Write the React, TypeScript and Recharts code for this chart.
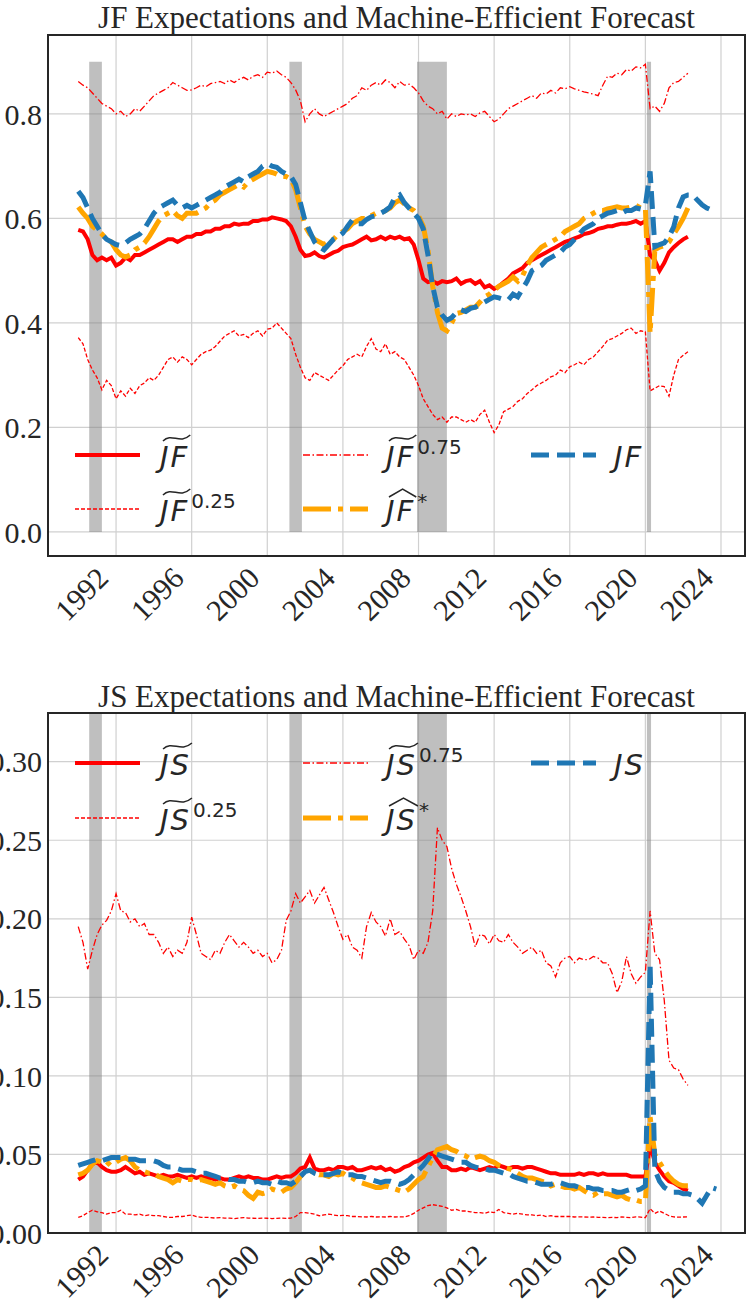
import React from 'react';
import { LineChart, Line, XAxis, YAxis, CartesianGrid, ReferenceArea, Legend } from 'recharts';

const N = null;

// quarterly time index, 1990Q1 .. 2023Q4
const quarters = Array.from({ length: 136 }, (_, i) => 1990 + i / 4);

const xTicks = [1992, 1996, 2000, 2004, 2008, 2012, 2016, 2020, 2024];
const jfTicks = [0, 0.2, 0.4, 0.6, 0.8];
const jsTicks = [0, 0.05, 0.1, 0.15, 0.2, 0.25, 0.3];

const recessions = [
  [1990.58, 1991.25],
  [2001.17, 2001.83],
  [2007.92, 2009.5],
  [2020.08, 2020.3],
];

// ---- job finding (JF) ----
const jfSurvey = [
  0.578, 0.575, 0.56, 0.53, 0.52, 0.525, 0.52, 0.525,
  0.51, 0.515, 0.525, 0.52, 0.53, 0.53, 0.535, 0.54,
  0.545, 0.55, 0.555, 0.56, 0.56, 0.555, 0.56, 0.565,
  0.565, 0.57, 0.57, 0.575, 0.575, 0.58, 0.58, 0.585,
  0.585, 0.59, 0.588, 0.59, 0.59, 0.595, 0.595, 0.598,
  0.598, 0.602, 0.6, 0.598, 0.595, 0.585, 0.565, 0.54,
  0.528, 0.53, 0.535, 0.528, 0.525, 0.53, 0.535, 0.538,
  0.545, 0.548, 0.55, 0.555, 0.56, 0.565, 0.558, 0.56,
  0.565, 0.56, 0.565, 0.562, 0.565, 0.56, 0.562, 0.55,
  0.52, 0.485, 0.478, 0.48, 0.475, 0.48, 0.478, 0.48,
  0.485, 0.475, 0.48, 0.482, 0.475, 0.48, 0.468, 0.472,
  0.465, 0.47, 0.478, 0.485, 0.495, 0.5, 0.505, 0.515,
  0.52, 0.525, 0.53, 0.535, 0.54, 0.545, 0.55, 0.555,
  0.558, 0.562, 0.565, 0.57, 0.572, 0.575, 0.58, 0.582,
  0.585, 0.585, 0.588, 0.59, 0.59, 0.592, 0.595, 0.59,
  0.595, 0.53, 0.52, 0.5, 0.515, 0.535, 0.545, 0.553,
  0.56, 0.565, N, N, N, N, N, N,
];

const jfP25 = [
  0.372, 0.36, 0.33, 0.31, 0.295, 0.272, 0.29, 0.28,
  0.255, 0.27, 0.26, 0.275, 0.265, 0.28, 0.285, 0.295,
  0.29, 0.3, 0.315, 0.33, 0.335, 0.325, 0.335, 0.33,
  0.32, 0.33, 0.34, 0.345, 0.348, 0.355, 0.365, 0.375,
  0.38, 0.385, 0.375, 0.378, 0.372, 0.38, 0.385, 0.375,
  0.388, 0.39, 0.4, 0.39, 0.38, 0.37, 0.34, 0.315,
  0.295, 0.29, 0.305, 0.3, 0.295, 0.29, 0.3, 0.31,
  0.318, 0.33, 0.335, 0.34, 0.335, 0.355, 0.37, 0.35,
  0.345, 0.36, 0.34, 0.345, 0.335, 0.33, 0.315, 0.3,
  0.28, 0.255, 0.24, 0.225, 0.215, 0.22, 0.21, 0.22,
  0.22, 0.215, 0.21, 0.215, 0.21, 0.225, 0.233, 0.21,
  0.19, 0.205, 0.23, 0.235, 0.24, 0.25, 0.255, 0.265,
  0.272, 0.28, 0.285, 0.29, 0.297, 0.3, 0.31, 0.305,
  0.316, 0.32, 0.325, 0.32, 0.33, 0.335, 0.345, 0.355,
  0.367, 0.37, 0.375, 0.38, 0.387, 0.39, 0.38, 0.385,
  0.383, 0.27, 0.275, 0.28, 0.278, 0.26, 0.3, 0.33,
  0.338, 0.345, N, N, N, N, N, N,
];

const jfP75 = [
  0.862, 0.855, 0.85, 0.84, 0.83, 0.82, 0.815, 0.81,
  0.8, 0.805, 0.795, 0.8, 0.81, 0.805, 0.815, 0.825,
  0.835, 0.84, 0.845, 0.85, 0.86, 0.855, 0.85, 0.845,
  0.846, 0.85, 0.855, 0.852, 0.858, 0.86, 0.862, 0.858,
  0.865, 0.86, 0.866, 0.87, 0.865, 0.872, 0.875, 0.87,
  0.88, 0.878, 0.882, 0.875, 0.87, 0.86, 0.846, 0.825,
  0.785, 0.8, 0.81, 0.8, 0.795, 0.8, 0.805, 0.81,
  0.815, 0.82, 0.83, 0.835, 0.85, 0.845, 0.855, 0.86,
  0.855, 0.865, 0.86, 0.85, 0.862, 0.855, 0.857, 0.85,
  0.84, 0.825, 0.815, 0.81, 0.8, 0.805, 0.79, 0.8,
  0.795, 0.8, 0.798, 0.8, 0.795, 0.802, 0.805, 0.795,
  0.785, 0.79, 0.8, 0.81, 0.815, 0.82, 0.825, 0.83,
  0.835, 0.83, 0.84, 0.838, 0.845, 0.84, 0.85, 0.848,
  0.852, 0.848, 0.845, 0.842, 0.84, 0.838, 0.835, 0.855,
  0.872, 0.87, 0.878, 0.875, 0.885, 0.882, 0.89, 0.888,
  0.895, 0.81, 0.815, 0.805, 0.82, 0.85, 0.86, 0.862,
  0.87, 0.878, N, N, N, N, N, N,
];

const jfForecast = [
  0.622, 0.61, 0.6, 0.585, 0.578, 0.57, 0.56, 0.555,
  0.54, 0.53, 0.526, 0.53, 0.54, 0.545, 0.553, 0.565,
  0.58, 0.595, 0.605, 0.61, 0.615, 0.605, 0.6, 0.61,
  0.61, 0.61, 0.615, 0.62, 0.63, 0.635, 0.645, 0.65,
  0.655, 0.66, 0.665, 0.66, 0.67, 0.675, 0.68, 0.685,
  0.69, 0.688, 0.685, 0.68, 0.68, 0.675, 0.655, 0.62,
  0.585, 0.57, 0.56, 0.555, 0.55, 0.555, 0.56, 0.57,
  0.575, 0.58, 0.59, 0.595, 0.6, 0.6, 0.605, 0.61,
  0.61, 0.615, 0.62, 0.63, 0.635, 0.628, 0.62, 0.615,
  0.605, 0.585, 0.54, 0.47, 0.42, 0.39, 0.385, 0.4,
  0.418, 0.42, 0.425, 0.43, 0.43, 0.44, 0.45, 0.455,
  0.463, 0.47, 0.475, 0.48, 0.488, 0.48, 0.49, 0.51,
  0.525, 0.535, 0.545, 0.55, 0.555, 0.56, 0.565, 0.575,
  0.58, 0.585, 0.59, 0.6, 0.605, 0.61, 0.615, 0.615,
  0.618, 0.62, 0.622, 0.62, 0.62, 0.622, 0.625, 0.62,
  0.62, 0.38, 0.54, 0.545, 0.548, 0.555, 0.57, 0.584,
  0.6, 0.62, N, N, N, N, N, N,
];

const jfRealized = [
  0.652, 0.64, 0.62, 0.6, 0.585, 0.57, 0.56, 0.555,
  0.55, 0.548, 0.553, 0.56, 0.565, 0.57, 0.58, 0.595,
  0.61, 0.62, 0.625, 0.63, 0.635, 0.625, 0.62, 0.625,
  0.62, 0.625, 0.63, 0.635, 0.64, 0.645, 0.65, 0.66,
  0.665, 0.67, 0.675, 0.67, 0.68, 0.685, 0.69, 0.7,
  0.705, 0.7, 0.698, 0.69, 0.685, 0.68, 0.665, 0.63,
  0.595, 0.575, 0.555, 0.545, 0.54, 0.55, 0.56, 0.565,
  0.572, 0.585, 0.597, 0.59, 0.59, 0.598, 0.603, 0.605,
  0.61, 0.615, 0.622, 0.64, 0.645, 0.63, 0.62, 0.61,
  0.6, 0.58, 0.53, 0.47, 0.43, 0.415, 0.405, 0.41,
  0.42, 0.425, 0.422, 0.428, 0.43, 0.435, 0.44, 0.445,
  0.45, 0.448, 0.445, 0.444, 0.455, 0.45, 0.465, 0.48,
  0.5, 0.505, 0.51, 0.52, 0.525, 0.53, 0.535, 0.545,
  0.55, 0.56, 0.57, 0.58, 0.585, 0.59, 0.6, 0.605,
  0.61, 0.612, 0.615, 0.61, 0.615, 0.615, 0.62, 0.618,
  0.625, 0.69, 0.546, 0.55, 0.553, 0.565, 0.584, 0.62,
  0.641, 0.645, 0.645, 0.635, 0.626, 0.62, 0.616, 0.612,
];

// ---- job separation (JS) ----
const jsSurvey = [
  0.034, 0.036, 0.04, 0.044, 0.045, 0.042, 0.04, 0.039,
  0.039, 0.04, 0.042, 0.04, 0.038, 0.039, 0.037, 0.038,
  0.037, 0.036, 0.037, 0.036, 0.036, 0.037, 0.036, 0.035,
  0.036, 0.035, 0.036, 0.035, 0.035, 0.034, 0.035, 0.034,
  0.034, 0.035, 0.036, 0.035, 0.036, 0.035, 0.035, 0.034,
  0.034, 0.035, 0.036, 0.035, 0.036, 0.036, 0.038, 0.041,
  0.042, 0.048, 0.041, 0.04, 0.04, 0.041, 0.04, 0.042,
  0.042, 0.041, 0.042, 0.04, 0.04, 0.041, 0.042, 0.041,
  0.042, 0.04, 0.041, 0.039, 0.04, 0.042, 0.043, 0.045,
  0.046, 0.048, 0.05, 0.051, 0.046, 0.042, 0.042, 0.04,
  0.04, 0.041, 0.04, 0.042, 0.041, 0.04, 0.041, 0.042,
  0.041, 0.043, 0.042, 0.041, 0.042, 0.042, 0.041, 0.042,
  0.042, 0.041, 0.04, 0.039, 0.038, 0.038, 0.037, 0.037,
  0.037, 0.037, 0.038, 0.037, 0.038, 0.038, 0.037, 0.038,
  0.037, 0.037, 0.037, 0.037, 0.037, 0.036, 0.036, 0.036,
  0.036, 0.056, 0.045, 0.04, 0.036, 0.033, 0.032, 0.03,
  0.028, 0.027, N, N, N, N, N, N,
];

const jsP25 = [
  0.01, 0.011, 0.013, 0.0145, 0.0135, 0.013, 0.012, 0.013,
  0.013, 0.0145, 0.012, 0.012, 0.0115, 0.012, 0.011, 0.0115,
  0.011, 0.011, 0.0105, 0.01, 0.01, 0.0105, 0.0105, 0.011,
  0.0115, 0.0105, 0.01, 0.01, 0.0098, 0.0095, 0.0098, 0.0095,
  0.0095, 0.0092, 0.0095, 0.0098, 0.0095, 0.0094, 0.0093, 0.0095,
  0.0094, 0.0092, 0.0093, 0.0095, 0.0093, 0.0095, 0.0105, 0.013,
  0.013, 0.0125, 0.012, 0.011, 0.0115, 0.012, 0.0115, 0.011,
  0.0112, 0.011, 0.0105, 0.0105, 0.0103, 0.0102, 0.0105, 0.0102,
  0.0103, 0.0102, 0.0105, 0.0102, 0.0103, 0.0102, 0.011, 0.0125,
  0.0145, 0.016, 0.0175, 0.018, 0.0175, 0.017, 0.016, 0.0145,
  0.015, 0.014, 0.014, 0.0135, 0.013, 0.013, 0.0125, 0.0135,
  0.013, 0.015, 0.013, 0.0125, 0.012, 0.0125, 0.012, 0.0115,
  0.0115, 0.011, 0.0115, 0.0105, 0.011, 0.0105, 0.0105, 0.0105,
  0.0105, 0.0102, 0.0103, 0.0102, 0.0101, 0.0102, 0.01, 0.0099,
  0.0098, 0.0099, 0.0098, 0.0102, 0.01, 0.0098, 0.0103, 0.0101,
  0.0098, 0.0155, 0.0125, 0.014, 0.0125, 0.011, 0.0102, 0.0101,
  0.0102, 0.0103, N, N, N, N, N, N,
];

const jsP75 = [
  0.195, 0.185, 0.168, 0.18, 0.19, 0.196, 0.199, 0.205,
  0.216, 0.205, 0.204, 0.198, 0.2, 0.195, 0.197, 0.19,
  0.19, 0.185, 0.178, 0.182, 0.176, 0.18, 0.178, 0.185,
  0.201, 0.19, 0.178, 0.176, 0.174, 0.18, 0.178, 0.185,
  0.19, 0.186, 0.182, 0.185, 0.182, 0.178, 0.18, 0.176,
  0.178, 0.172, 0.174, 0.18, 0.199, 0.205, 0.216, 0.21,
  0.214, 0.218, 0.21, 0.215, 0.22, 0.212, 0.204, 0.195,
  0.187, 0.19, 0.182, 0.18, 0.175, 0.195, 0.204, 0.198,
  0.195, 0.189, 0.2, 0.19, 0.192, 0.187, 0.183, 0.174,
  0.18, 0.178, 0.185, 0.205, 0.258, 0.25, 0.246, 0.232,
  0.222, 0.214, 0.205, 0.195, 0.182, 0.19, 0.189, 0.184,
  0.19, 0.186, 0.185, 0.19, 0.185, 0.182, 0.178, 0.18,
  0.182, 0.178, 0.18, 0.172, 0.17, 0.163, 0.172, 0.175,
  0.176, 0.172, 0.175, 0.174, 0.174, 0.176, 0.175, 0.172,
  0.172, 0.165, 0.153, 0.16, 0.176, 0.165, 0.159, 0.163,
  0.166, 0.205, 0.178, 0.174, 0.148, 0.11, 0.105, 0.104,
  0.098, 0.094, N, N, N, N, N, N,
];

const jsForecast = [
  0.037, 0.038, 0.04, 0.044, 0.046, 0.045, 0.043, 0.046,
  0.045, 0.047, 0.048, 0.046, 0.042, 0.04, 0.039, 0.038,
  0.038, 0.036, 0.035, 0.034, 0.032, 0.034, 0.033, 0.034,
  0.034, 0.033, 0.034, 0.033, 0.032, 0.031, 0.032, 0.03,
  0.029, 0.03, 0.028, 0.027, 0.024, 0.022, 0.026, 0.025,
  0.026, 0.028, 0.027, 0.026, 0.028, 0.029, 0.032, 0.036,
  0.039, 0.04, 0.038, 0.037, 0.037, 0.036, 0.038, 0.037,
  0.038, 0.036, 0.035, 0.033, 0.032, 0.031, 0.03, 0.029,
  0.029, 0.03, 0.029, 0.028, 0.027, 0.026, 0.028, 0.031,
  0.034, 0.036, 0.042, 0.048, 0.053, 0.054, 0.055, 0.053,
  0.052, 0.05, 0.049, 0.047, 0.048, 0.049, 0.048, 0.046,
  0.045, 0.043, 0.042, 0.041, 0.04, 0.038, 0.036, 0.035,
  0.035, 0.034, 0.033, 0.032, 0.03, 0.031, 0.03, 0.029,
  0.029, 0.028, 0.029, 0.027, 0.025, 0.024, 0.026, 0.025,
  0.025, 0.024, 0.023, 0.024, 0.022, 0.021, 0.021, 0.02,
  0.02, 0.074, 0.05, 0.045, 0.04, 0.036, 0.033, 0.031,
  0.03, 0.03, N, N, N, N, N, N,
];

const jsRealized = [
  0.043, 0.044, 0.045, 0.046, 0.047, 0.046, 0.047, 0.048,
  0.048, 0.048, 0.047, 0.047, 0.047, 0.046, 0.046, 0.046,
  0.046, 0.045, 0.043, 0.042, 0.042, 0.041, 0.04, 0.04,
  0.04, 0.039, 0.038, 0.038, 0.037, 0.036, 0.035, 0.035,
  0.034, 0.034, 0.033, 0.033, 0.032, 0.032, 0.033, 0.032,
  0.032, 0.031, 0.033, 0.032, 0.032, 0.031, 0.033, 0.036,
  0.039, 0.04, 0.038, 0.037, 0.037, 0.037, 0.038, 0.039,
  0.038, 0.037, 0.037, 0.036, 0.036, 0.035, 0.034, 0.033,
  0.032, 0.033, 0.033, 0.032, 0.031, 0.032, 0.034, 0.037,
  0.04, 0.043, 0.047, 0.051, 0.05, 0.049, 0.048, 0.047,
  0.046, 0.045, 0.045, 0.043, 0.042, 0.041, 0.041, 0.04,
  0.04, 0.039, 0.038, 0.038, 0.036, 0.035, 0.034, 0.033,
  0.033, 0.032, 0.031, 0.031, 0.031, 0.032, 0.032, 0.031,
  0.03, 0.03, 0.029, 0.029, 0.029, 0.028, 0.028, 0.027,
  0.027, 0.027, 0.026, 0.026, 0.027, 0.028, 0.027, 0.028,
  0.03, 0.171, 0.04, 0.033, 0.029, 0.027, 0.026, 0.026,
  0.025, 0.025, 0.024, 0.022, 0.019, 0.024, 0.029, 0.028,
];

const jfData = quarters.map((t, i) => ({
  t,
  surv: jfSurvey[i],
  p25: jfP25[i],
  p75: jfP75[i],
  fcst: jfForecast[i],
  real: jfRealized[i],
}));

const jsData = quarters.map((t, i) => ({
  t,
  surv: jsSurvey[i],
  p25: jsP25[i],
  p75: jsP75[i],
  fcst: jsForecast[i],
  real: jsRealized[i],
}));

const X_DOMAIN: [number, number] = [1988.4, 2025.27];
const INK = '#262626';
const SERIF = 'Liberation Serif';

const styles = {
  surv: { stroke: '#ff0000', width: 4, dash: undefined as string | undefined },
  p25: { stroke: '#ff0000', width: 1.3, dash: '4 2' },
  p75: { stroke: '#ff0000', width: 1.3, dash: '7 2.5 1.5 2.5' },
  fcst: { stroke: '#ffa500', width: 5, dash: '28 7 5 7' },
  real: { stroke: '#1f77b4', width: 5, dash: '18 8' },
};

function YearTick({ x, y, payload }: any) {
  const tx = x - 6;
  const ty = y + 24;
  return (
    <text
      x={tx}
      y={ty}
      transform={`rotate(-45, ${tx}, ${ty})`}
      textAnchor="end"
      style={{ fontFamily: SERIF, fontSize: 30 }}
      fill={INK}
    >
      {payload.value}
    </text>
  );
}

function Accent({ kind }: { kind: 'tilde' | 'hat' }) {
  const d = kind === 'tilde' ? 'M1 7 C 10 -2, 18 11, 29 1' : 'M1 9 L 15 1 L 29 9';
  return (
    <svg
      viewBox="0 0 30 10"
      preserveAspectRatio="none"
      style={{ position: 'absolute', left: 2, top: -9, width: '100%', height: 10, overflow: 'visible' }}
    >
      <path d={d} fill="none" stroke={INK} strokeWidth={1.5} vectorEffect="non-scaling-stroke" />
    </svg>
  );
}

function MathLabel({ base, accent, sup }: { base: string; accent?: 'tilde' | 'hat'; sup?: string }) {
  return (
    <span style={{ whiteSpace: 'nowrap', fontFamily: '"DejaVu Sans", sans-serif', fontSize: 29, lineHeight: '29px', color: INK }}>
      <span style={{ position: 'relative', display: 'inline-block', fontStyle: 'italic', letterSpacing: 2 }}>
        {base}
        {accent && <Accent kind={accent} />}
      </span>
      {sup && <span style={{ fontSize: 20, position: 'relative', top: -13, marginLeft: 2 }}>{sup}</span>}
    </span>
  );
}

function Sample({ s }: { s: { stroke: string; width: number; dash?: string } }) {
  return (
    <svg width={65} height={14} style={{ position: 'absolute', left: 0, top: 0 }}>
      <line x1={0} y1={7} x2={65} y2={7} stroke={s.stroke} strokeWidth={s.width} strokeDasharray={s.dash} />
    </svg>
  );
}

function MathLegend({ sym, row1, row2 }: { sym: string; row1: number; row2: number }) {
  const items = [
    { key: 'surv', lx: 75, tx: 160, y: row1, accent: 'tilde', sup: undefined },
    { key: 'p25', lx: 75, tx: 160, y: row2, accent: 'tilde', sup: '0.25' },
    { key: 'p75', lx: 303, tx: 386, y: row1, accent: 'tilde', sup: '0.75' },
    { key: 'fcst', lx: 303, tx: 386, y: row2, accent: 'hat', sup: '*' },
    { key: 'real', lx: 531, tx: 614, y: row1, accent: undefined, sup: undefined },
  ] as const;
  return (
    <div style={{ position: 'relative', width: 746, height: 10 }}>
      {items.map((it) => (
        <React.Fragment key={it.key}>
          <div style={{ position: 'absolute', left: it.lx, top: it.y - 7, width: 65, height: 14 }}>
            <Sample s={(styles as any)[it.key]} />
          </div>
          <div style={{ position: 'absolute', left: it.tx, top: it.y - 12 }}>
            <MathLabel base={sym} accent={it.accent as any} sup={it.sup} />
          </div>
        </React.Fragment>
      ))}
    </div>
  );
}

function Panel({
  data,
  yDomain,
  yTicks,
  digits,
  bandTop,
  height,
  top,
  xHeight,
  sym,
  rows,
}: {
  data: any[];
  yDomain: [number, number];
  yTicks: number[];
  digits: number;
  bandTop: number;
  height: number;
  top: number;
  xHeight: number;
  sym: string;
  rows: [number, number];
}) {
  const keys = ['surv', 'p25', 'p75', 'fcst', 'real'] as const;
  return (
    <LineChart width={746} height={height} data={data} margin={{ top, right: 1, bottom: 0, left: 0 }}>
      <CartesianGrid stroke="#d0d0d0" strokeWidth={1.2} />
      <XAxis
        dataKey="t"
        type="number"
        domain={X_DOMAIN}
        ticks={xTicks}
        interval={0}
        allowDataOverflow
        axisLine={false}
        tickLine={false}
        tickSize={0}
        tickMargin={0}
        height={xHeight}
        tick={<YearTick />}
      />
      <YAxis
        type="number"
        domain={yDomain}
        ticks={yTicks}
        interval={0}
        allowDataOverflow
        axisLine={false}
        tickLine={false}
        tickSize={6}
        tickMargin={0}
        width={48}
        tickFormatter={(v: number) => v.toFixed(digits)}
        tick={{ fontSize: 30, fill: INK, fontFamily: SERIF, style: { fontFamily: SERIF } }}
      />
      {recessions.map(([a, b]) => (
        <ReferenceArea key={a} x1={a} x2={b} y1={0} y2={bandTop} fill="#808080" fillOpacity={0.5} stroke="none" />
      ))}
      {keys.map((k) => (
        <Line
          key={k}
          type="linear"
          dataKey={k}
          stroke={styles[k].stroke}
          strokeWidth={styles[k].width}
          strokeDasharray={styles[k].dash}
          dot={false}
          activeDot={false}
          isAnimationActive={false}
        />
      ))}
      <ReferenceArea
        x1={X_DOMAIN[0]}
        x2={X_DOMAIN[1]}
        y1={yDomain[0]}
        y2={yDomain[1]}
        fill="none"
        stroke={INK}
        strokeWidth={2}
      />
      <Legend
        layout="horizontal"
        verticalAlign="middle"
        align="center"
        wrapperStyle={{ position: 'absolute', left: 0, top: 0, width: 746, pointerEvents: 'none' }}
        content={() => <MathLegend sym={sym} row1={rows[0]} row2={rows[1]} />}
      />
    </LineChart>
  );
}

const titleStyle: React.CSSProperties = {
  position: 'absolute',
  left: 48,
  width: 697,
  textAlign: 'center',
  fontFamily: SERIF,
  fontSize: 31,
  lineHeight: '31px',
  color: INK,
  whiteSpace: 'nowrap',
};

export default function App() {
  return (
    <div style={{ position: 'absolute', left: 0, top: 0, width: 746, height: 1304, background: '#fff', overflow: 'hidden' }}>
      <div style={{ position: 'absolute', left: 0, top: 0 }}>
        <Panel
          data={jfData}
          yDomain={[-0.046, 0.951]}
          yTicks={jfTicks}
          digits={1}
          bandTop={0.9}
          height={650}
          top={35}
          xHeight={94}
          sym="JF"
          rows={[455, 509]}
        />
      </div>
      <div style={{ position: 'absolute', left: 0, top: 655 }}>
        <Panel
          data={jsData}
          yDomain={[0, 0.331]}
          yTicks={jsTicks}
          digits={2}
          bandTop={0.331}
          height={649}
          top={58}
          xHeight={71}
          sym="JS"
          rows={[108, 163]}
        />
      </div>
      <div style={{ ...titleStyle, top: 2 }}>JF Expectations and Machine-Efficient Forecast</div>
      <div style={{ ...titleStyle, top: 681 }}>JS Expectations and Machine-Efficient Forecast</div>
    </div>
  );
}
